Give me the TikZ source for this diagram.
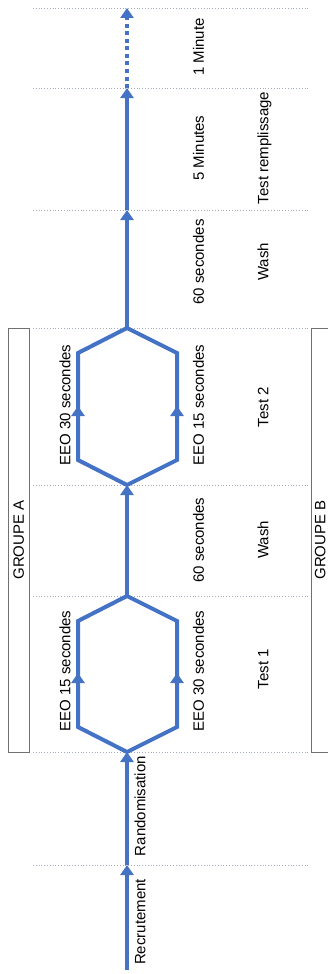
\documentclass[tikz,border=0pt]{standalone}
\usepackage{fontspec}
\setmainfont{Liberation Sans}
\usetikzlibrary{arrows.meta}
\definecolor{flowblue}{HTML}{4472C4}
\definecolor{gridgray}{HTML}{A3ABBE}
\definecolor{boxgray}{HTML}{707070}
\begin{document}
\begin{tikzpicture}[x=1pt,y=-1pt,
  flow/.style={draw=flowblue, line width=4pt, line join=miter},
  tipped/.style={flow, -{Triangle[length=10pt,width=13pt]}},
  dottedflow/.style={tipped, dash pattern=on 4pt off 3.5pt},
  sepline/.style={draw=gridgray, line width=0.8pt, dotted},
  lbl/.style={rotate=90, font=\fontsize{15}{18}\selectfont, text height=10.7pt, text depth=0pt, inner sep=0pt},
  grpbox/.style={draw=boxgray, line width=1pt}]
\useasboundingbox (0,0) rectangle (327,974);

% separator lines
\foreach \yy/\nm in {8/s1,88/s2,210/s3,328/s4,485/s5,596/s6,752/s7,865/s8}{
  \coordinate (\nm l) at (33,\yy);
  \coordinate (\nm r) at (310,\yy);
  \draw[sepline] (\nm l) -- (\nm r);
}

% group boxes
\draw[grpbox] (8,328) rectangle (29,752);
\node[lbl] (ga) at (18.5,540) {GROUPE A};
\draw[grpbox] (311,328) rectangle (332,752);
\node[lbl] (gb) at (320,540) {GROUPE B};

% flow coordinates
\coordinate (start) at (127,970);
\coordinate (rec) at (127,865);
\coordinate (b1) at (127,752);
\coordinate (l1a) at (78,727);
\coordinate (l1m) at (78,673);
\coordinate (l1b) at (78,621);
\coordinate (r1a) at (177,727);
\coordinate (r1m) at (177,673);
\coordinate (r1b) at (177,621);
\coordinate (t1) at (127,596);
\coordinate (b2) at (127,485);
\coordinate (l2a) at (78,460);
\coordinate (l2m) at (78,406);
\coordinate (l2b) at (78,353);
\coordinate (r2a) at (177,460);
\coordinate (r2m) at (177,406);
\coordinate (r2b) at (177,353);
\coordinate (t2) at (127,328);
\coordinate (w2) at (127,210);
\coordinate (fill) at (127,88);
\coordinate (end) at (127,8);

% flow
\draw[tipped] (start) -- (rec);
\draw[tipped] (rec) -- (b1);
\draw[flow] (b1) -- (l1a) -- (l1b) -- (t1) -- (r1b) -- (r1a) -- cycle;
\draw[tipped] (l1a) -- (l1m);
\draw[tipped] (r1a) -- (r1m);
\draw[tipped] (t1) -- (b2);
\draw[flow] (b2) -- (l2a) -- (l2b) -- (t2) -- (r2b) -- (r2a) -- cycle;
\draw[tipped] (l2a) -- (l2m);
\draw[tipped] (r2a) -- (r2m);
\draw[tipped] (t2) -- (w2);
\draw[tipped] (w2) -- (fill);
\draw[dottedflow] (fill) -- (end);

% labels
\node[lbl] (t1min) at (198.5,47) {1 Minute};
\node[lbl] (t5min) at (198.5,148) {5 Minutes};
\node[lbl] (trem) at (263,148) {Test remplissage};
\node[lbl] (s60a) at (198.5,262) {60 secondes};
\node[lbl] (wa) at (263,262) {Wash};
\node[lbl] (e2l) at (65,405) {EEO 30 secondes};
\node[lbl] (e2r) at (198.5,405) {EEO 15 secondes};
\node[lbl] (tt2) at (263,407) {Test 2};
\node[lbl] (s60b) at (198.5,540) {60 secondes};
\node[lbl] (wb) at (263,540) {Wash};
\node[lbl] (e1l) at (65,671) {EEO 15 secondes};
\node[lbl] (e1r) at (198.5,671) {EEO 30 secondes};
\node[lbl] (tt1) at (263,669) {Test 1};
\node[lbl] (rand) at (140,806) {Randomisation};
\node[lbl] (recr) at (140,922) {Recrutement};
\end{tikzpicture}
\end{document}
